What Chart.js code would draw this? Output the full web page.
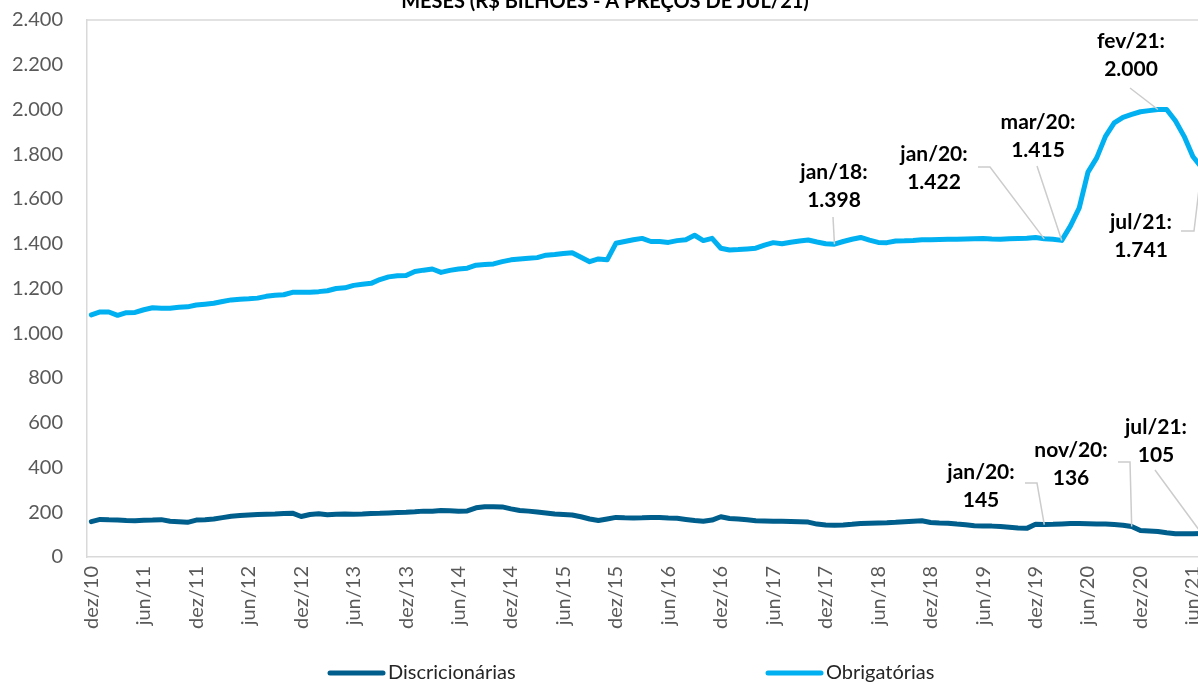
<!DOCTYPE html>
<html lang="pt-BR">
<head>
<meta charset="utf-8">
<title>Despesas obrigatórias e discricionárias</title>
<script src="https://cdn.jsdelivr.net/npm/chart.js@4.4.1/dist/chart.umd.min.js"></script>
<style>
    html, body { margin: 0; padding: 0; background: #fff; overflow: hidden; }
    #wrap { width: 1230px; height: 684px; overflow: hidden; }
    canvas { display: block; margin-top: -16px; }
</style>
</head>
<body>
<div id="wrap"><canvas id="chart" width="1230" height="700"></canvas></div>
<script>
// categorias: dez/10 ate jul/21 (mensal)
const monthNames = ['jan', 'fev', 'mar', 'abr', 'mai', 'jun', 'jul', 'ago', 'set', 'out', 'nov', 'dez'];
const years = ['10', '11', '12', '13', '14', '15', '16', '17', '18', '19', '20', '21'];

// R$ bilhoes, acumulado 12 meses, precos de jul/21
const obrigatorias = [
    1082, 1095, 1095, 1080, 1092, 1093, 1105, 1114, 1112, 1112, 1116, 1118,
    1126, 1130, 1134, 1142, 1149, 1152, 1154, 1157, 1165, 1170, 1172, 1183,
    1183, 1183, 1186, 1190, 1200, 1203, 1214, 1219, 1223, 1240, 1252, 1257,
    1258, 1276, 1282, 1287, 1272, 1281, 1287, 1291, 1304, 1307, 1310, 1320,
    1328, 1332, 1335, 1338, 1349, 1352, 1356, 1360, 1340, 1320, 1332, 1328,
    1402, 1410, 1418, 1424, 1410, 1410, 1406, 1414, 1418, 1438, 1414, 1424,
    1380, 1372, 1374, 1377, 1380, 1394, 1405, 1400, 1407, 1412, 1417, 1408,
    1400, 1398, 1410, 1420, 1428, 1416, 1406, 1405, 1412, 1413, 1415, 1418,
    1418, 1419, 1420, 1420, 1421, 1422, 1423, 1421, 1420, 1422, 1424, 1425,
    1428, 1422, 1420, 1415, 1480, 1560, 1720, 1784, 1880, 1940, 1965, 1978,
    1990, 1995, 2000, 2000, 1950, 1880, 1790, 1741
];
const discricionarias = [
    158, 168, 166, 165, 163, 162, 164, 165, 167, 160, 158, 155,
    165, 167, 170, 176, 182, 185, 188, 190, 191, 192, 194, 196,
    181, 190, 193, 189, 191, 192, 191, 192, 194, 195, 197, 199,
    200, 202, 205, 204, 208, 207, 205, 206, 220, 225, 225, 224,
    215, 208, 205, 201, 197, 192, 190, 188, 180, 170, 163, 170,
    177, 175, 174, 175, 177, 176, 174, 173, 168, 163, 160, 165,
    180, 172, 170, 166, 162, 161, 160, 160, 159, 158, 156, 147,
    143, 142, 143, 146, 150, 151, 152, 153, 155, 158, 160, 162,
    154, 152, 151, 147, 144, 140, 139, 138, 136, 133, 130, 128,
    146, 145, 146, 148, 150, 150, 149, 148, 148, 145, 142, 136,
    118, 116, 114, 108, 104, 104, 104, 105
];

const yTicks = [0, 200, 400, 600, 800, 1000, 1200, 1400, 1600, 1800, 2000, 2200, 2400];

// rotulos destacados: serie, mes, texto (posicoes em px da tela)
const callouts = [
    { ds: 1, month: 'jan/18', text: ['jan/18:', '1.398'], x: 834, y: 172, path: [[833, 217]] },
    { ds: 1, month: 'jan/20', text: ['jan/20:', '1.422'], x: 934, y: 154, path: [[978, 167], [990, 167]] },
    { ds: 1, month: 'mar/20', text: ['mar/20:', '1.415'], x: 1038, y: 122, path: [[1037, 166]] },
    { ds: 1, month: 'fev/21', text: ['fev/21:', '2.000'], x: 1131, y: 41, path: [[1130, 88]] },
    { ds: 1, month: 'jul/21', text: ['jul/21:', '1.741'], x: 1141, y: 222, path: [[1181, 231], [1194, 231]] },
    { ds: 0, month: 'jan/20', text: ['jan/20:', '145'], x: 981, y: 472, path: [[1025, 483], [1037, 483]] },
    { ds: 0, month: 'nov/20', text: ['nov/20:', '136'], x: 1071, y: 450, path: [[1118, 462], [1130, 462]] },
    { ds: 0, month: 'jul/21', text: ['jul/21:', '105'], x: 1156, y: 427, path: [[1155, 470]] }
];

const labels = [];
monthNames.slice(11).forEach(m => labels.push(m + '/' + years[0]));
years.slice(1).forEach(yr => {
    monthNames.forEach(m => {
        if (labels.length < obrigatorias.length) labels.push(m + '/' + yr);
    });
});

const FONT = 'Lato, "Open Sans", sans-serif';
const OFF = 16; // canvas deslocado para cima
const fmt = v => String(v).replace(/\B(?=(\d{3})+(?!\d))/g, '.');

const overlay = {
    id: 'overlay',
    afterDraw(chart) {
        const ctx = chart.ctx;
        const area = chart.chartArea;
        ctx.save();

        // borda superior da area de plotagem
        ctx.strokeStyle = '#d9d9d9';
        ctx.lineWidth = 1.5;
        ctx.beginPath();
        ctx.moveTo(area.left, area.top);
        ctx.lineTo(area.right, area.top);
        ctx.stroke();

        // titulo (cortado no topo)
        ctx.fillStyle = '#000';
        ctx.font = 'bold 20px ' + FONT;
        ctx.textAlign = 'center';
        ctx.textBaseline = 'alphabetic';
        ctx.fillText('MESES (R$ BILHÕES - A PREÇOS DE JUL/21)', 605, 8 + OFF);

        // linhas de chamada e rotulos
        callouts.forEach(c => {
            const pt = chart.getDatasetMeta(c.ds).data[labels.indexOf(c.month)];
            ctx.strokeStyle = '#cccccc';
            ctx.lineWidth = 1.5;
            ctx.beginPath();
            ctx.moveTo(c.path[0][0], c.path[0][1] + OFF);
            c.path.slice(1).forEach(p => ctx.lineTo(p[0], p[1] + OFF));
            ctx.lineTo(pt.x, pt.y);
            ctx.stroke();

            ctx.fillStyle = '#000';
            ctx.font = 'bold 21px ' + FONT;
            ctx.textAlign = 'center';
            ctx.textBaseline = 'middle';
            c.text.forEach((t, k) => ctx.fillText(t, c.x, c.y + OFF + k * 28));
        });

        // legenda
        const legendX = [330, 768];
        const legendY = 673 + OFF;
        chart.data.datasets.forEach((ds, k) => {
            ctx.strokeStyle = ds.borderColor;
            ctx.lineWidth = 5;
            ctx.lineCap = 'round';
            ctx.beginPath();
            ctx.moveTo(legendX[k], legendY);
            ctx.lineTo(legendX[k] + 53, legendY);
            ctx.stroke();
            ctx.fillStyle = '#262626';
            ctx.font = '20px ' + FONT;
            ctx.textAlign = 'left';
            ctx.textBaseline = 'middle';
            ctx.fillText(ds.label, legendX[k] + 58, legendY);
        });
        ctx.restore();
    }
};

const ctx = document.getElementById('chart').getContext('2d');
new Chart(ctx, {
    type: 'line',
    data: {
        labels: labels,
        datasets: [
            {
                label: 'Discricionárias',
                data: discricionarias,
                borderColor: '#005E8C',
                borderWidth: 5,
                pointRadius: 0,
                tension: 0,
                borderJoinStyle: 'round',
                borderCapStyle: 'round',
            },
            {
                label: 'Obrigatórias',
                data: obrigatorias,
                borderColor: '#00B0F0',
                borderWidth: 5,
                pointRadius: 0,
                tension: 0,
                borderJoinStyle: 'round',
                borderCapStyle: 'round',
            },
        ],
    },
    options: {
        responsive: false,
        animation: false,
        layout: { padding: { top: 4, right: 24, left: 0, bottom: 0 } },
        plugins: {
            legend: { display: false },
            tooltip: { enabled: false },
        },
        scales: {
            x: {
                offset: true,
                grid: { display: false, drawTicks: false },
                border: { color: '#d9d9d9', width: 1.5 },
                ticks: {
                    autoSkip: false,
                    minRotation: 90,
                    maxRotation: 90,
                    padding: 9,
                    color: '#595959',
                    font: { family: FONT, size: 20 },
                    callback: (v, i) => {
                        const l = labels[i];
                        return (l.startsWith('dez') || l.startsWith('jun')) ? l : null;
                    },
                },
                afterFit: s => { s.height = 127; },
            },
            y: {
                min: 0,
                max: 2400,
                afterBuildTicks: s => { s.ticks = yTicks.map(v => ({ value: v })); },
                grid: { display: false, drawTicks: false },
                border: { color: '#d9d9d9', width: 1.5 },
                ticks: {
                    padding: 24,
                    color: '#595959',
                    font: { family: FONT, size: 20 },
                    callback: v => fmt(v),
                },
                afterFit: s => { s.width = 87; },
            },
        },
    },
    plugins: [overlay],
});
</script>
</body>
</html>
